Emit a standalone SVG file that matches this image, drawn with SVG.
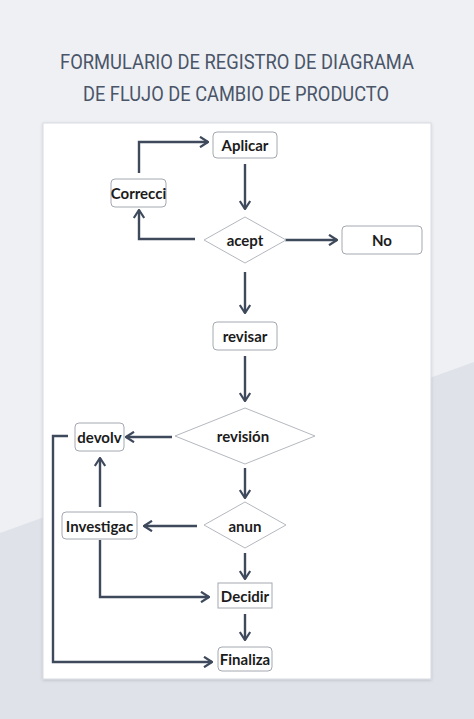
<svg xmlns="http://www.w3.org/2000/svg" width="474" height="719" viewBox="0 0 474 719">
<style>
.title{font-family:Roboto,"Liberation Sans",sans-serif;font-size:20px;fill:#4a5568;text-anchor:middle}
.box{fill:#fff;stroke:#a3a8b0;stroke-width:1}
.dia{fill:#fff;stroke:#b4b8be;stroke-width:1}
.lbl{font-family:Lato,"Liberation Sans",sans-serif;font-weight:bold;font-size:15px;fill:#1c1c1c;text-anchor:middle;dominant-baseline:central}
.con{fill:none;stroke:#3e4a5c;stroke-width:2.4;marker-end:url(#arr)}
</style>
<defs>
<marker id="arr" viewBox="0 0 10 12" refX="9" refY="6" markerWidth="10" markerHeight="12" markerUnits="userSpaceOnUse" orient="auto">
<path d="M1,0.8 L9,6 L1,11.2" fill="none" stroke="#3e4a5c" stroke-width="2.2"/>
</marker>
<filter id="sh" x="-5%" y="-5%" width="110%" height="110%">
<feDropShadow dx="0" dy="1" stdDeviation="1.5" flood-color="#000" flood-opacity="0.15"/>
</filter>
</defs>
<rect x="0" y="0" width="474" height="719" fill="#eef0f4"/>
<polygon points="0,533 474,362 474,719 0,719" fill="#dfe3e9"/>
<text class="title" x="237" y="69" textLength="354" lengthAdjust="spacingAndGlyphs">FORMULARIO DE REGISTRO DE DIAGRAMA</text>
<text class="title" x="236" y="101" textLength="306" lengthAdjust="spacingAndGlyphs">DE FLUJO DE CAMBIO DE PRODUCTO</text>
<rect x="43" y="123" width="388" height="556" fill="#fff" stroke="#d6dae0" stroke-width="1" filter="url(#sh)"/>
<g id="connectors">
<line class="con" x1="245" y1="164" x2="245" y2="209"/>
<line class="con" x1="285" y1="240" x2="337" y2="240"/>
<polyline class="con" points="195,239 139,239 139,210"/>
<polyline class="con" points="139,173 139,142 208,142"/>
<line class="con" x1="245" y1="272" x2="245" y2="313"/>
<line class="con" x1="245" y1="356" x2="245" y2="401"/>
<line class="con" x1="172" y1="437" x2="126" y2="437"/>
<line class="con" x1="245" y1="468" x2="245" y2="498"/>
<line class="con" x1="197" y1="526" x2="144" y2="526"/>
<line class="con" x1="100" y1="507" x2="100" y2="458"/>
<line class="con" x1="245" y1="553" x2="245" y2="579"/>
<polyline class="con" points="100,540 100,597 209,597"/>
<line class="con" x1="245" y1="614" x2="245" y2="640"/>
<polyline class="con" points="68,436 53,436 53,662 212,662"/>
</g>
<g id="aplicar"><rect class="box" x="213" y="132" width="64" height="26" rx="4"/><text class="lbl" x="245" y="145">Aplicar</text></g>
<g id="correcci"><rect class="box" x="111" y="179" width="55" height="28" rx="4"/><text class="lbl" x="138.5" y="193">Correcci</text></g>
<g id="acept"><polygon class="dia" points="245,217 286,240 245,263 204,240"/><text class="lbl" x="245" y="240">acept</text></g>
<g id="no"><rect class="box" x="342" y="226" width="80" height="28" rx="4"/><text class="lbl" x="382" y="240">No</text></g>
<g id="revisar"><rect class="box" x="213" y="322" width="64" height="28" rx="4"/><text class="lbl" x="245" y="336">revisar</text></g>
<g id="revision"><polygon class="dia" points="245,408 315,436 245,464 175,436"/><text class="lbl" x="243" y="436">revisión</text></g>
<g id="devolv"><rect class="box" x="75" y="423" width="49" height="28" rx="4"/><text class="lbl" x="99.5" y="437">devolv</text></g>
<g id="anun"><polygon class="dia" points="245,502 286,525 245,548 204,525"/><text class="lbl" x="245" y="526">anun</text></g>
<g id="investigac"><rect class="box" x="62" y="512" width="75" height="27" rx="4"/><text class="lbl" x="99.5" y="526">Investigac</text></g>
<g id="decidir"><rect class="box" x="218" y="583" width="54" height="25"/><text class="lbl" x="245" y="596">Decidir</text></g>
<g id="finaliza"><rect class="box" x="218" y="647" width="54" height="24" rx="4"/><text class="lbl" x="245" y="659">Finaliza</text></g>
</svg>
